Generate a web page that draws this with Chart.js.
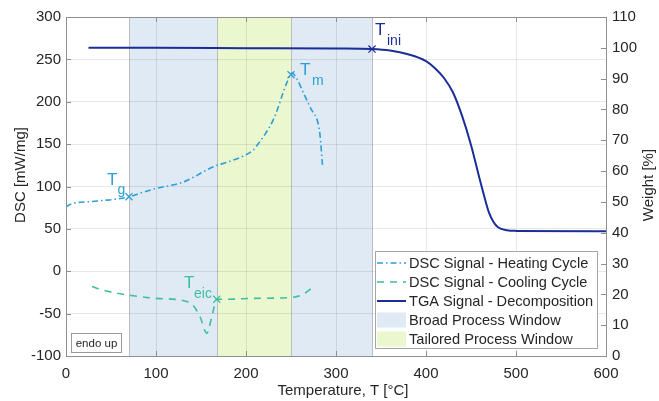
<!DOCTYPE html>
<html><head><meta charset="utf-8">
<script src="https://cdn.jsdelivr.net/npm/chart.js@4/dist/chart.umd.min.js"></script>
<style>html,body{margin:0;padding:0;background:#fff}#wrap{width:659px;height:401px;position:relative}</style>
</head><body><div id="wrap"><canvas id="c"></canvas></div>
<script>
// ---- data ----
const heatT   = [0, 5, 10, 16, 25, 40, 55, 71, 85, 101, 115, 127, 140, 152, 163, 180, 195, 208, 214, 222, 230, 236, 241, 246, 251, 256, 264, 272, 280, 282, 285];
const heatDSC = [76, 79, 80.5, 81.5, 82, 83.5, 85, 88, 93, 98, 101, 104, 110, 117, 123, 129, 135, 143, 151, 163, 178, 194, 210, 224, 234, 228, 210, 192, 175, 163, 125];
const coolT   = [29, 40, 55, 75, 100, 130, 141, 149, 156.5, 162, 167.5, 180, 209, 249, 262, 273];
const coolDSC = [-18, -22, -25.6, -29, -32, -34.5, -40, -54, -73, -54, -33, -33, -32, -31, -28, -20];
const tgaT    = [25, 100, 200, 300, 340, 360, 380, 400, 410, 420, 430, 440, 450, 460, 465, 470, 475, 480, 490, 500, 600];
const tgaW    = [100, 100, 99.9, 99.8, 99.6, 99.1, 97.9, 95.7, 93.4, 90.2, 85.5, 78, 68.5, 57, 51.5, 46.5, 43.5, 41.8, 40.8, 40.6, 40.5];
const markerTg   = [70, 88];
const markerTm   = [250, 232];
const markerTeic = [167.5, -33];
const markerTini = [340, 99.6];
const broadWindow    = [70, 340];
const tailoredWindow = [168, 250];
const xTicks = [0, 100, 200, 300, 400, 500, 600];
const dscTicks = [-100, -50, 0, 50, 100, 150, 200, 250, 300];
const wTicks = [0, 10, 20, 30, 40, 50, 60, 70, 80, 90, 100, 110];
const legendLabels = ['DSC Signal - Heating Cycle', 'DSC Signal - Cooling Cycle', 'TGA Signal - Decomposition', 'Broad Process Window', 'Tailored Process Window'];

const C_HEAT = '#2c9fd8', C_COOL = '#3ebf9f', C_TGA = '#1b2d97';
const C_BROAD = '#dfeaf5', C_TAIL = '#ebf7cf';
const FONT = '"Liberation Sans", Arial, sans-serif';
const TXT = '#262626';

const pts = (xs, ys) => xs.map((x, i) => ({x, y: ys[i]}));

const bgPlugin = {
  id: 'bg',
  beforeDraw(chart) {
    const {ctx, chartArea: a, scales: {x}} = chart;
    ctx.save();
    const x0 = x.getPixelForValue(broadWindow[0]), x1 = x.getPixelForValue(broadWindow[1]);
    const t0 = x.getPixelForValue(tailoredWindow[0]), t1 = x.getPixelForValue(tailoredWindow[1]);
    ctx.fillStyle = C_BROAD; ctx.fillRect(x0, a.top, x1 - x0, a.bottom - a.top);
    ctx.fillStyle = C_TAIL; ctx.fillRect(t0, a.top, t1 - t0, a.bottom - a.top);
    ctx.strokeStyle = '#bdbdbd'; ctx.lineWidth = 1;
    [x0, x1, t0, t1].forEach(px => { ctx.beginPath(); ctx.moveTo(Math.round(px) + 0.5, a.top); ctx.lineTo(Math.round(px) + 0.5, a.bottom); ctx.stroke(); });
    ctx.restore();
  },
  afterDraw(chart) {
    const {ctx, chartArea: a, scales: {x, y, y1}} = chart;
    ctx.save();
    // axes box
    ctx.strokeStyle = '#8f8f8f'; ctx.lineWidth = 1;
    ctx.strokeRect(Math.round(a.left) + 0.5, Math.round(a.top) + 0.5, Math.round(a.right - a.left), Math.round(a.bottom - a.top));
    // inside ticks
    ctx.beginPath();
    xTicks.forEach(v => { const px = Math.round(x.getPixelForValue(v)) + 0.5; ctx.moveTo(px, a.bottom); ctx.lineTo(px, a.bottom - 5); ctx.moveTo(px, a.top); ctx.lineTo(px, a.top + 5); });
    dscTicks.forEach(v => { const py = Math.round(y.getPixelForValue(v)) + 0.5; ctx.moveTo(a.left, py); ctx.lineTo(a.left + 5, py); });
    wTicks.forEach(v => { const py = Math.round(y1.getPixelForValue(v)) + 0.5; ctx.moveTo(a.right, py); ctx.lineTo(a.right - 5, py); });
    ctx.stroke();

    // axis titles
    ctx.fillStyle = TXT; ctx.font = '15px ' + FONT; ctx.textAlign = 'center'; ctx.textBaseline = 'middle';
    ctx.fillText('Temperature, T [°C]', 343, 391);
    ctx.save(); ctx.translate(21, 175); ctx.rotate(-Math.PI / 2); ctx.fillText('DSC [mW/mg]', 0, 0); ctx.restore();
    ctx.save(); ctx.translate(649, 185); ctx.rotate(-Math.PI / 2); ctx.fillText('Weight [%]', 0, 0); ctx.restore();

    // marker labels
    const lab = (tx, ty, sub, sx, sy, col) => {
      ctx.fillStyle = col; ctx.textAlign = 'left'; ctx.textBaseline = 'alphabetic';
      ctx.font = '17px ' + FONT; ctx.fillText('T', tx, ty);
      ctx.font = '14px ' + FONT; ctx.fillText(sub, sx, sy);
    };
    lab(107, 185, 'g', 117.5, 194, C_HEAT);
    lab(300, 75, 'm', 312, 85, C_HEAT);
    lab(375, 35, 'ini', 387, 45, C_TGA);
    lab(184, 288, 'eic', 194, 298, C_COOL);

    // endo up box
    ctx.fillStyle = '#fff'; ctx.fillRect(71, 333, 51, 20);
    ctx.strokeStyle = '#9a9a9a'; ctx.strokeRect(71.5, 333.5, 50, 19);
    ctx.fillStyle = TXT; ctx.font = '11.5px ' + FONT; ctx.textAlign = 'center'; ctx.textBaseline = 'middle';
    ctx.fillText('endo up', 96.5, 343.5);

    // legend
    ctx.fillStyle = '#fff'; ctx.fillRect(375, 251, 223, 98);
    ctx.strokeStyle = '#a6a6a6'; ctx.lineWidth = 1; ctx.strokeRect(375.5, 251.5, 222, 97);
    const rows = [263, 282, 301, 320, 339];
    ctx.font = '14.6px ' + FONT; ctx.textAlign = 'left'; ctx.textBaseline = 'middle';
    legendLabels.forEach((t, i) => { ctx.fillStyle = TXT; ctx.fillText(t, 409, rows[i] + 0.5); });
    ctx.lineWidth = 1.6;
    ctx.strokeStyle = C_HEAT; ctx.setLineDash([6, 3, 1.5, 3]); ctx.beginPath(); ctx.moveTo(377, rows[0]); ctx.lineTo(406, rows[0]); ctx.stroke();
    ctx.strokeStyle = C_COOL; ctx.setLineDash([7, 6]); ctx.beginPath(); ctx.moveTo(377, rows[1]); ctx.lineTo(406, rows[1]); ctx.stroke();
    ctx.strokeStyle = C_TGA; ctx.lineWidth = 2; ctx.setLineDash([]); ctx.beginPath(); ctx.moveTo(377, rows[2]); ctx.lineTo(406, rows[2]); ctx.stroke();
    ctx.fillStyle = C_BROAD; ctx.fillRect(377, rows[3] - 7.5, 29, 15);
    ctx.fillStyle = C_TAIL; ctx.fillRect(377, rows[4] - 7.5, 29, 15);
    ctx.restore();
  }
};

const tickFont = {family: FONT, size: 15};
new Chart(document.getElementById('c'), {
  type: 'line',
  data: {
    datasets: [
      {data: pts(heatT, heatDSC), borderColor: C_HEAT, borderWidth: 1.6, borderDash: [6, 3, 1.5, 3], pointRadius: 0, cubicInterpolationMode: 'monotone', yAxisID: 'y'},
      {data: pts(coolT, coolDSC), borderColor: C_COOL, borderWidth: 1.6, borderDash: [7, 6], pointRadius: 0, cubicInterpolationMode: 'monotone', yAxisID: 'y'},
      {data: pts(tgaT, tgaW), borderColor: C_TGA, borderWidth: 2, pointRadius: 0, cubicInterpolationMode: 'monotone', yAxisID: 'y1'},
      {type: 'scatter', data: [{x: markerTg[0], y: markerTg[1]}, {x: markerTm[0], y: markerTm[1]}], borderColor: C_HEAT, backgroundColor: C_HEAT, pointStyle: 'crossRot', pointRadius: 5, borderWidth: 1.3, yAxisID: 'y'},
      {type: 'scatter', data: [{x: markerTeic[0], y: markerTeic[1]}], borderColor: C_COOL, backgroundColor: C_COOL, pointStyle: 'crossRot', pointRadius: 5, borderWidth: 1.3, yAxisID: 'y'},
      {type: 'scatter', data: [{x: markerTini[0], y: markerTini[1]}], borderColor: C_TGA, backgroundColor: C_TGA, pointStyle: 'crossRot', pointRadius: 5, borderWidth: 1.3, yAxisID: 'y1'}
    ]
  },
  options: {
    responsive: true, maintainAspectRatio: false, animation: false,
    layout: {padding: {top: 17, left: 0, right: 0, bottom: 0}},
    plugins: {legend: {display: false}, tooltip: {enabled: false}},
    scales: {
      x: {type: 'linear', min: 0, max: 600, border: {display: false},
          afterBuildTicks: s => { s.ticks = xTicks.map(v => ({value: v})); },
          afterFit: s => { s.height = 45; },
          grid: {color: 'rgba(0,0,0,0.09)', drawTicks: false},
          ticks: {font: tickFont, color: TXT, padding: 9, maxRotation: 0}},
      y: {type: 'linear', position: 'left', min: -100, max: 300, border: {display: false},
          afterBuildTicks: s => { s.ticks = dscTicks.map(v => ({value: v})); },
          afterFit: s => { s.width = 66; },
          grid: {color: 'rgba(0,0,0,0.09)', drawTicks: false},
          ticks: {font: tickFont, color: TXT, padding: 5}},
      y1: {type: 'linear', position: 'right', min: 0, max: 110, border: {display: false},
          afterBuildTicks: s => { s.ticks = wTicks.map(v => ({value: v})); },
          afterFit: s => { s.width = 53; },
          grid: {drawOnChartArea: false, drawTicks: false},
          ticks: {font: tickFont, color: TXT, padding: 6}}
    }
  },
  plugins: [bgPlugin]
});
</script>
</body></html>
